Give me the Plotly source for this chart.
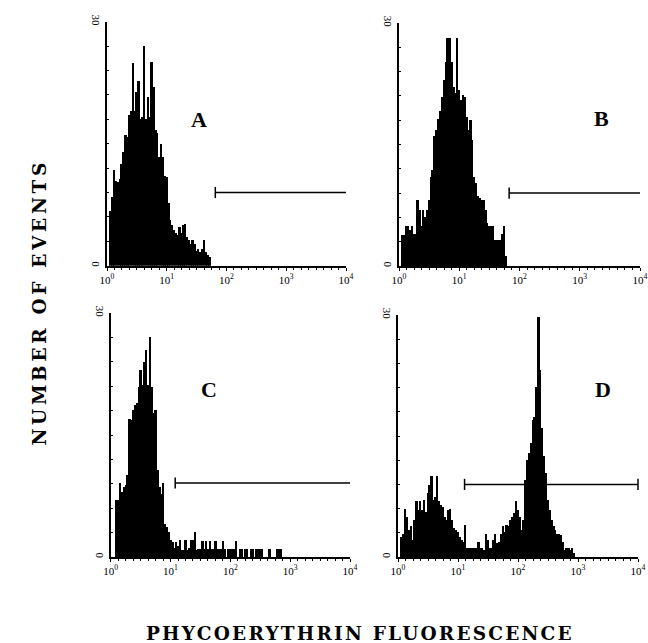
import plotly.graph_objects as go

# ---- data (channels: 256 channels over 4 decades, 64 per decade) ----
chan_A = list(range(4, 112, 2))
counts_A = [6.8, 8.5, 11.8, 10.5, 10.3, 10.7, 12.6, 14.0, 16.1, 15.9,
            18.6, 19.1, 25.0, 19.1, 21.4, 22.8, 18.1, 18.3, 27.1, 18.1,
            20.8, 18.3, 25.1, 22.0, 16.7, 16.3, 13.4, 15.0, 13.4, 11.1,
            10.9, 7.7, 5.6, 5.0, 4.4, 4.0, 3.8, 4.8, 4.0, 5.0,
            5.2, 3.6, 3.2, 2.7, 3.2, 2.7, 1.9, 2.1, 1.7, 2.1,
            3.2, 1.7, 1.3, 1.1]

chan_B = list(range(4, 116, 2))
counts_B = [3.8, 3.8, 4.9, 4.9, 4.4, 4.9, 4.0, 4.0, 8.1, 6.9,
            4.9, 6.9, 6.1, 6.9, 8.1, 11.0, 11.9, 16.0, 16.8, 18.2,
            19.1, 20.9, 23.0, 25.2, 28.1, 28.1, 25.2, 22.1, 21.3, 28.1,
            21.7, 20.5, 21.1, 20.9, 18.4, 16.8, 18.0, 15.6, 11.0, 10.2,
            8.6, 8.4, 8.1, 8.1, 6.9, 5.3, 4.9, 4.9, 4.9, 3.2,
            3.2, 3.2, 3.2, 4.0, 4.9, 1.2]

chan_C = list(range(6, 186, 2))
counts_C = [7.0, 7.0, 9.1, 8.0, 8.6, 8.9, 10.1, 17.0, 16.8, 18.1,
            18.7, 18.9, 20.9, 23.0, 21.1, 24.0, 25.5, 21.1, 27.1, 20.9,
            17.7, 18.1, 10.7, 8.6, 7.8, 9.1, 4.1, 3.7, 3.1, 2.1,
            1.9, 1.1, 1.9, 1.3, 2.1, 0.9, 0.9, 2.1, 0.9, 1.1,
            2.1, 2.1, 3.1, 0.9, 1, 1, 2, 1, 2, 1,
            2, 1, 1, 2, 1, 1, 1, 2, 1, 0,
            1, 1, 1, 1, 2, 0, 1, 1, 0, 1,
            1, 0, 1, 1, 0, 1, 1, 1, 1, 0,
            0, 0, 1, 0, 0, 0, 1, 1, 1, 0]

chan_D = list(range(4, 192, 2))
counts_D = [2.5, 2.9, 6.0, 5.0, 3.3, 3.8, 2.1, 4.6, 6.9, 5.8,
            6.9, 5.8, 7.1, 5.6, 7.9, 8.9, 10.0, 7.1, 7.5, 10.0,
            6.9, 6.4, 6.2, 5.0, 4.6, 5.8, 6.0, 4.6, 3.6, 3.3,
            3.1, 2.5, 2.1, 1.9, 4.0, 1.1, 1.1, 1.1, 1.1, 1.1,
            1.1, 1.9, 1.1, 1.1, 0.9, 2.9, 2.1, 1.1, 1.1, 2.1,
            2.9, 1.7, 1.9, 2.9, 3.8, 3.1, 4.0, 3.8, 4.6, 5.0,
            5.4, 6.9, 5.8, 5.0, 3.3, 4.6, 9.5, 12.0, 12.9, 14.1,
            17.0, 17.4, 21.1, 29.8, 23.2, 16.0, 12.5, 10.4, 7.1, 5.8,
            4.6, 3.8, 3.3, 2.9, 2.9, 2.7, 1.9, 0.9, 1.1, 1.1,
            0.9, 1.1, 0.5, 0]

panel_labels = ["A", "B", "C", "D"]
gate_start = [116, 117, 69, 71]
gate_end = [261, 263, 257, 256]
gate_level = [9.0, 9.0, 9.1, 9.0]

x_tickvals = [0, 64, 128, 192, 256]
x_ticktext = ["10<sup>0</sup>", "10<sup>1</sup>", "10<sup>2</sup>", "10<sup>3</sup>", "10<sup>4</sup>"]
y_tickvals = [0, 30]
y_ticktext = ["0", "30"]

# ---- layout geometry (paper fractions) ----
W, H = 648, 643
domains = [  # (x0, x1, ytop_px, ybot_px)
    (107, 346, 21.7, 265.7),
    (399, 640, 23.0, 266.0),
    (110.7, 350, 313.0, 557.0),
    (398, 638, 315.0, 557.0),
]
label_pos = [(199, 119), (601, 118.5), (208.5, 389.5), (602.5, 389.5)]

chans = [chan_A, chan_B, chan_C, chan_D]
counts = [counts_A, counts_B, counts_C, counts_D]

fig = go.Figure()
serif = "Liberation Serif, Times New Roman, serif"
title_font = "DejaVu Serif, Liberation Serif, serif"

for i in range(4):
    xa = "x" if i == 0 else f"x{i+1}"
    ya = "y" if i == 0 else f"y{i+1}"
    fig.add_trace(go.Bar(x=chans[i], y=counts[i], width=2.05,
                         marker=dict(color="black", line=dict(width=0)),
                         xaxis=xa, yaxis=ya, showlegend=False))
    fig.add_trace(go.Scatter(x=[gate_start[i], gate_end[i]],
                             y=[gate_level[i], gate_level[i]],
                             mode="lines+markers", cliponaxis=False,
                             line=dict(color="black", width=1.5),
                             marker=dict(symbol="line-ns-open", size=8,
                                         line=dict(color="black", width=1.5)),
                             xaxis=xa, yaxis=ya, showlegend=False))
    x0, x1, yt, yb = domains[i]
    xkey = "xaxis" if i == 0 else f"xaxis{i+1}"
    ykey = "yaxis" if i == 0 else f"yaxis{i+1}"
    fig.update_layout(**{
        xkey: dict(domain=[x0 / W, x1 / W], anchor=ya, range=[0, 256],
                   automargin=False,
                   showgrid=False, zeroline=False, showline=True,
                   linecolor="black", linewidth=1.8,
                   tickvals=x_tickvals, ticktext=x_ticktext,
                   ticks="outside", ticklen=3, tickwidth=1.2, tickcolor="black",
                   minor=dict(dtick=8, tick0=0, ticks="outside", ticklen=2.5,
                              tickwidth=1, tickcolor="black", showgrid=False),
                   tickfont=dict(family=serif, size=11, color="black")),
        ykey: dict(domain=[1 - yb / H, 1 - yt / H], anchor=xa, range=[0, 30],
                   automargin=False,
                   showgrid=False, zeroline=False, showline=True,
                   linecolor="black", linewidth=1.8,
                   tickvals=y_tickvals, ticktext=y_ticktext, tickangle=90,
                   ticks="inside", ticklen=3, tickwidth=1, tickcolor="black",
                   minor=dict(dtick=3, tick0=0, ticks="inside", ticklen=2,
                              tickwidth=1, tickcolor="black", showgrid=False),
                   tickfont=dict(family=serif, size=11, color="black")),
    })
    lx, ly = label_pos[i]
    fig.add_annotation(x=lx / W, y=1 - ly / H, xref="paper", yref="paper",
                       text=f"<b>{panel_labels[i]}</b>", showarrow=False,
                       font=dict(family=serif, size=22, color="black"),
                       xanchor="center", yanchor="middle")

fig.add_annotation(x=38.5 / W, y=1 - 302 / H, xref="paper", yref="paper",
                   text='<b><span style="letter-spacing:3.7px">NUMBER OF EVENTS</span></b>',
                   textangle=-90, showarrow=False,
                   font=dict(family=title_font, size=18.5, color="black"),
                   xanchor="center", yanchor="middle")
fig.add_annotation(x=360 / W, y=1 - 633.5 / H, xref="paper", yref="paper",
                   text='<b><span style="letter-spacing:2.2px">PHYCOERYTHRIN FLUORESCENCE</span></b>',
                   showarrow=False,
                   font=dict(family=title_font, size=18.5, color="black"),
                   xanchor="center", yanchor="middle")

fig.update_layout(width=W, height=H, margin=dict(l=0, r=0, t=0, b=0, pad=0),
                  paper_bgcolor="white", plot_bgcolor="white",
                  bargap=0, showlegend=False)

fig.write_html("out.html", config={"displayModeBar": False},
               post_script="document.body.style.margin='0';"
                           "document.body.style.overflow='hidden';")
